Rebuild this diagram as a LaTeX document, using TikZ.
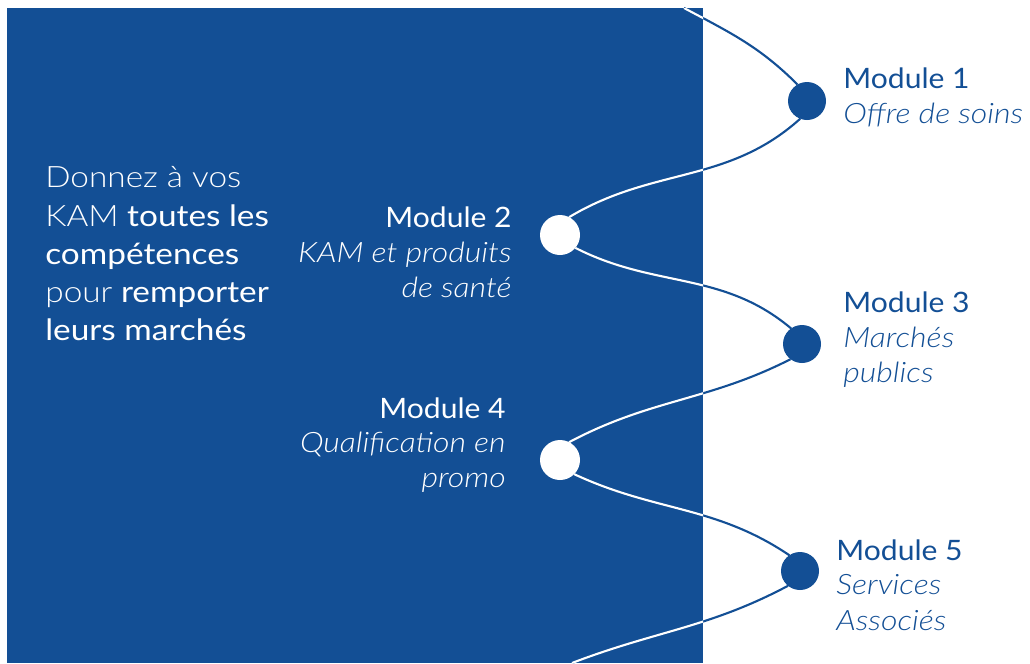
\documentclass[tikz,border=0pt]{standalone}
\usepackage{fontspec}
\setmainfont{Lato}
\newfontfamily\lightfont{Lato Light}[ItalicFont={Lato Light Italic}, FakeStretch=1.14]
\newfontfamily\regfont{Lato}[FakeStretch=1.07]
\newfontfamily\headfont{Lato}[FakeStretch=1.13]
\newfontfamily\headlight{Lato Light}[FakeStretch=1.13]
\definecolor{brandblue}{HTML}{134F95}
\newlength{\pxunit}
\setlength{\pxunit}{0.02cm}
\pgfdeclarelayer{panel}
\pgfdeclarelayer{thread}
\pgfsetlayers{panel,thread,main}
\tikzset{
  headreg/.style={font=\headfont\fontsize{16.8}{20}\selectfont, text=white, inner sep=0pt, anchor=base west},
  modtitle/.style={font=\regfont\fontsize{16}{19}\selectfont, inner sep=0pt},
  moddesc/.style={font=\lightfont\itshape\fontsize{16}{19}\selectfont, inner sep=0pt},
  onright/.style={anchor=base west, text=brandblue},
  onleft/.style={anchor=base east, text=white},
  dotout/.style={circle, fill=brandblue, minimum size=38\pxunit, inner sep=0pt, outer sep=0pt},
  dotin/.style={circle, fill=white, minimum size=40\pxunit, inner sep=0pt, outer sep=0pt},
  threadline/.style={line width=1.2pt},
}
\begin{document}
\begin{tikzpicture}[x=0.02cm, y=-0.02cm]
\useasboundingbox (0,0) rectangle (1030,663);

% milestones
\node[dotout] (n1) at (807,101) {};
\node[dotin]  (n2) at (560,235) {};
\node[dotout] (n3) at (802,344) {};
\node[dotin]  (n4) at (560,460) {};
\node[dotout] (n5) at (800,571) {};
\coordinate (top) at (684,8);
\coordinate (bot) at (572,663);

% left panel
\begin{pgfonlayer}{panel}
\fill[brandblue] (7,8) rectangle (703,663);
\end{pgfonlayer}

% winding thread: blue on white, white over the panel
\def\windpath{(top) to[out=-28,in=135] (n1.120)
  (n1.-111) to[out=-138,in=31] (n2.63)
  (n2.-40) to[out=-27,in=140] (n3.125)
  (n3.-127) to[out=-153,in=28] (n4.63)
  (n4.-45) to[out=-25,in=146] (n5.124)
  (n5.-129) to[out=-152,in=21] (bot)}
\begin{pgfonlayer}{thread}
\draw[brandblue, threadline] \windpath;
\begin{scope}
  \clip (7,8) rectangle (703,663);
  \draw[white, threadline] \windpath;
\end{scope}
\end{pgfonlayer}

% headline
\node[headreg] (h1) at (45,187) {\headlight Donnez à vos};
\node[headreg] (h2) at (45,226) {{\headlight KAM} toutes les};
\node[headreg] (h3) at (45,264) {compétences};
\node[headreg] (h4) at (45,302) {{\headlight pour} remporter};
\node[headreg] (h5) at (45,340) {leurs marchés};

% module 1
\node[modtitle, onright] (t1) at (843,88) {Module 1};
\node[moddesc, onright] (d1) at (843,123) {Offre de soins};
% module 2
\node[modtitle, onleft] (t2) at (512,227) {Module 2};
\node[moddesc, onleft] (d2a) at (512,262) {KAM et produits};
\node[moddesc, onleft] (d2b) at (512,297) {de santé};
% module 3
\node[modtitle, onright] (t3) at (843,312) {Module 3};
\node[moddesc, onright] (d3a) at (843,347) {Marchés};
\node[moddesc, onright] (d3b) at (843,382) {publics};
% module 4
\node[modtitle, onleft] (t4) at (506,418) {Module 4};
\node[moddesc, onleft] (d4a) at (506,452) {Qualification en};
\node[moddesc, onleft] (d4b) at (506,487) {promo};
% module 5
\node[modtitle, onright] (t5) at (836,560) {Module 5};
\node[moddesc, onright] (d5a) at (836,594) {Services};
\node[moddesc, onright] (d5b) at (836,630) {Associés};
\end{tikzpicture}
\end{document}
